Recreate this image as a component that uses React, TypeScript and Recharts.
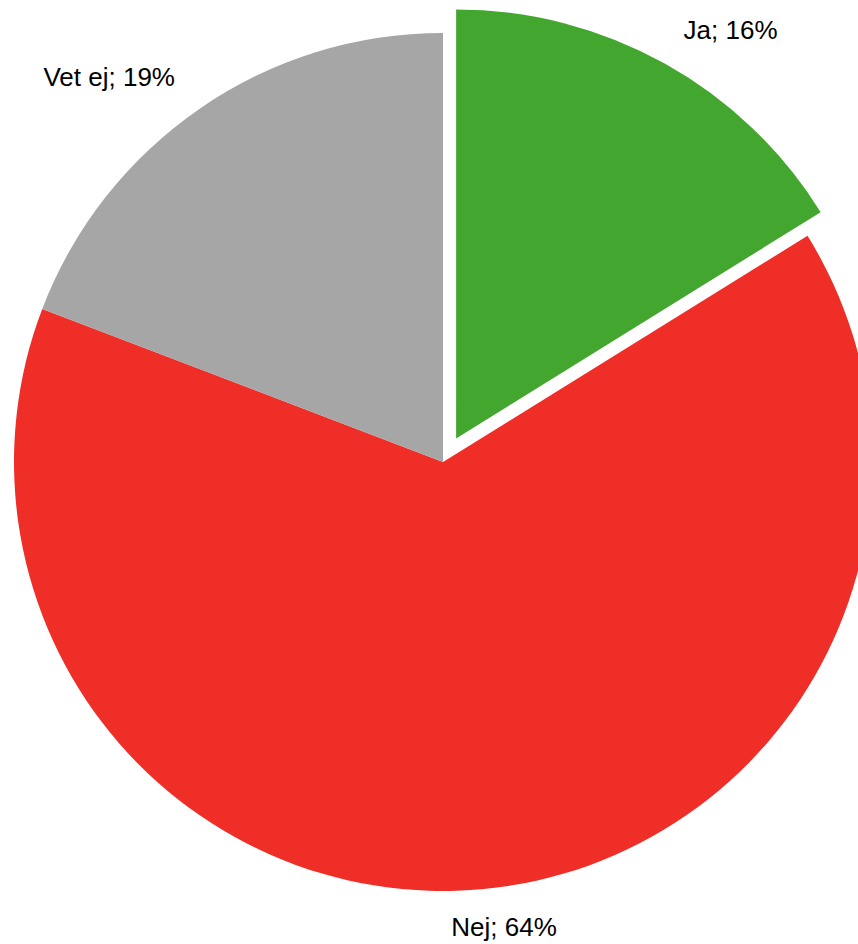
import { PieChart, Pie, Cell } from 'recharts'

const categories = ['Ja', 'Nej', 'Vet ej']
const shares = [16, 64, 19]
const colors = ['#43A62E', '#EE2E27', '#A6A6A6']
const pulledOut = 0 // "Ja" is pulled out of the pie

const data = categories.map((name, i) => ({ name, value: shares[i] }))

const W = 858
const H = 944
const CX = 443
const CY = 462
const RADIUS = 429
const PULL = 27
const LABEL_GAP = 45
const RAD = Math.PI / 180

// nudges for the outside labels (Excel-style placement)
const labelNudge: Record<string, { dx: number; dy: number }> = {
  Ja: { dx: 44, dy: 15 },
  Nej: { dx: 16, dy: 2 },
  'Vet ej': { dx: -65, dy: 14 },
}

const total = shares.reduce((a, b) => a + b, 0)
const before = shares.slice(0, pulledOut).reduce((a, b) => a + b, 0)
const pullAngle = ((before + shares[pulledOut] / 2) / total) * 360 // clockwise from top
const pullX = PULL * Math.sin(pullAngle * RAD)
const pullY = -PULL * Math.cos(pullAngle * RAD)

function makeLabel(show: (i: number) => boolean) {
  return (props: any) => {
    const { cx, cy, midAngle, outerRadius, index } = props
    if (!show(index)) return null
    const r = outerRadius + LABEL_GAP
    const name = categories[index]
    const n = labelNudge[name] ?? { dx: 0, dy: 0 }
    const x = cx + r * Math.cos(-midAngle * RAD) + n.dx
    const y = cy + r * Math.sin(-midAngle * RAD) + n.dy
    return (
      <text
        key={`l-${index}`}
        x={x}
        y={y}
        textAnchor="middle"
        fill="#000"
        fontSize={26}
        fontFamily="'Liberation Sans', Arial, sans-serif"
      >
        {`${name}; ${shares[index]}%`}
      </text>
    )
  }
}

export default function App() {
  return (
    <div style={{ position: 'absolute', left: 0, top: 0, width: W, height: H, overflow: 'hidden', background: '#fff' }}>
      <PieChart width={W} height={H} margin={{ top: 0, right: 0, bottom: 0, left: 0 }}>
        <Pie
          data={data}
          dataKey="value"
          nameKey="name"
          cx={CX}
          cy={CY}
          outerRadius={RADIUS}
          startAngle={90}
          endAngle={-270}
          stroke="none"
          label={makeLabel(i => i !== pulledOut)}
          labelLine={false}
          isAnimationActive={false}
        >
          {data.map((d, i) => (
            <Cell key={d.name} fill={i === pulledOut ? 'none' : colors[i]} stroke="none" />
          ))}
        </Pie>
        <Pie
          data={data}
          dataKey="value"
          nameKey="name"
          cx={CX + pullX}
          cy={CY + pullY}
          outerRadius={RADIUS}
          startAngle={90}
          endAngle={-270}
          stroke="none"
          label={makeLabel(i => i === pulledOut)}
          labelLine={false}
          isAnimationActive={false}
        >
          {data.map((d, i) => (
            <Cell key={d.name} fill={i === pulledOut ? colors[i] : 'none'} stroke="none" />
          ))}
        </Pie>
      </PieChart>
    </div>
  )
}
